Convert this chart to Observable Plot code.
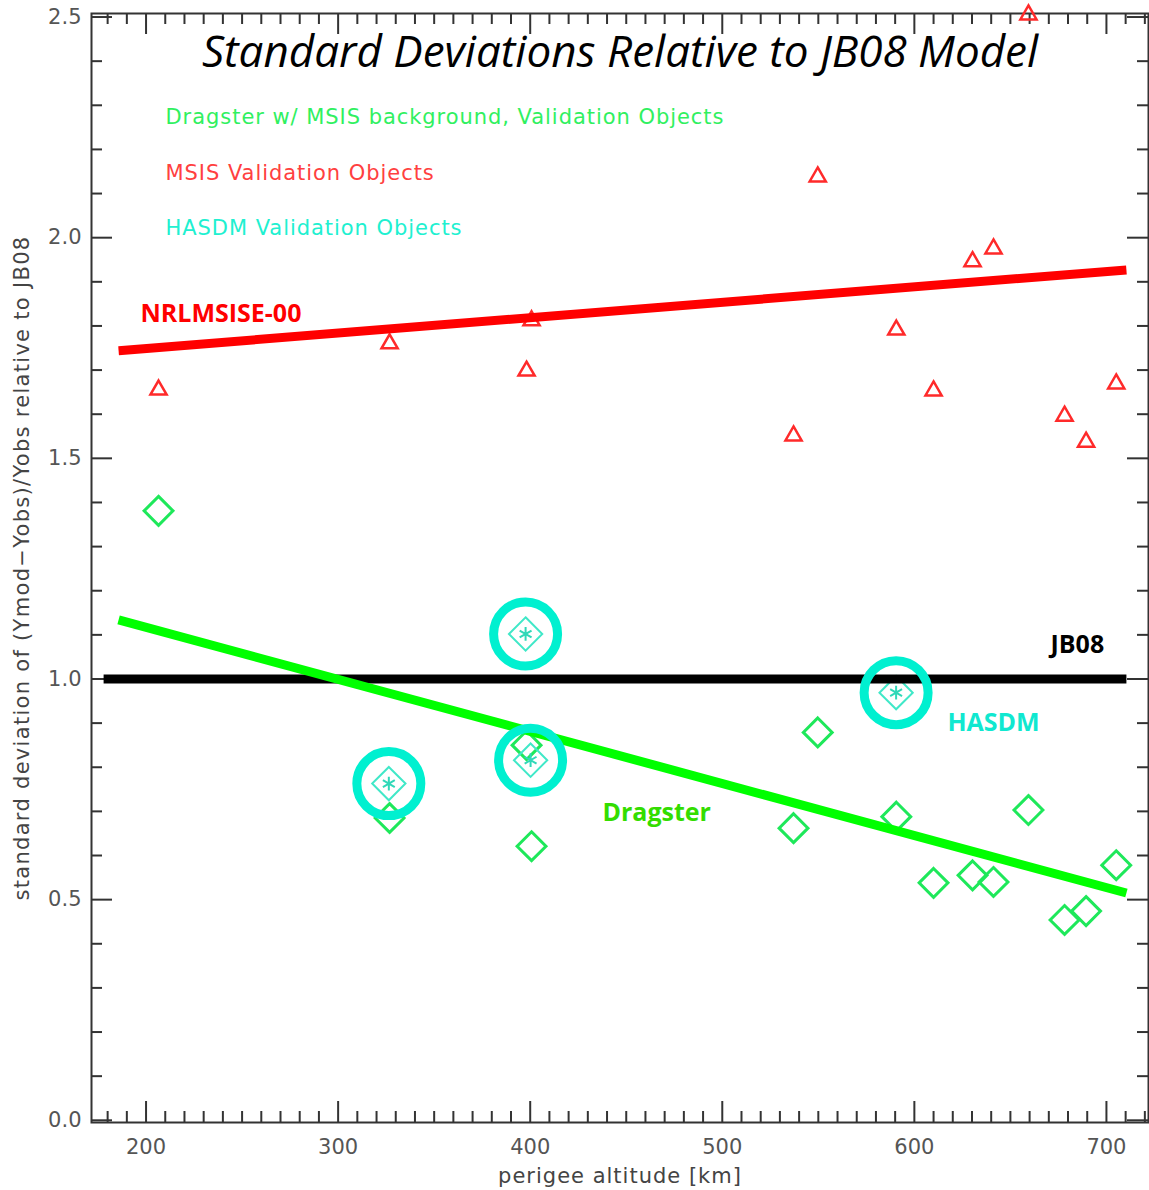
<!DOCTYPE html>
<html><head><meta charset="utf-8">
<script src="https://cdn.jsdelivr.net/npm/d3@7"></script>
<script src="https://cdn.jsdelivr.net/npm/@observablehq/plot@0.6"></script>
<style>
body{margin:0;background:#fff;}
#chart svg{display:block;}
.legendtxt text{letter-spacing:0.95px;}
.ytitle text{letter-spacing:1.3px;}
.xtitle text{letter-spacing:1.0px;}
</style></head><body><div id="chart"></div>
<script>
// ---- data ----
const objectAltitude = [206.5, 326.8, 398.1, 400.7, 537.1, 549.7, 590.6, 610.0, 630.3, 641.2, 659.4, 678.2, 689.4, 705.1];
const msisStd        = [1.655, 1.760, 1.698, 1.812, 1.551, 2.138, 1.791, 1.653, 1.946, 1.975, 2.505, 1.596, 1.537, 1.669];
const dragsterStd    = [1.381, 0.685, 0.850, 0.621, 0.662, 0.879, 0.688, 0.538, 0.555, 0.540, 0.703, 0.454, 0.474, 0.578];
const hasdmAltitude  = [326.4, 397.6, 400.2, 590.5];
const hasdmStd       = [0.763, 1.102, 0.816, 0.969];
const fitAltitude    = [185.7, 710.4];
const msisFit        = [1.744, 1.927];
const dragsterFit    = [1.134, 0.515];
const jb08Altitude   = [177.9, 710.4];
const jb08Level      = [1.0, 1.0];
const xMajorTicks = [200, 300, 400, 500, 600, 700];
const xMinorTicks = [180,190,210,220,230,240,250,260,270,280,290,310,320,330,340,350,360,370,380,390,
  410,420,430,440,450,460,470,480,490,510,520,530,540,550,560,570,580,590,610,620,630,640,650,660,670,680,690,710,720];
const yMajorTicks = [0, 0.5, 1.0, 1.5, 2.0, 2.5];
const yMinorTicks = [0.1,0.2,0.3,0.4,0.6,0.7,0.8,0.9,1.1,1.2,1.3,1.4,1.6,1.7,1.8,1.9,2.1,2.2,2.3,2.4];
const titleText = "Standard Deviations Relative to JB08 Model";
const legendTexts = ["Dragster w/ MSIS background, Validation Objects", "MSIS Validation Objects", "HASDM Validation Objects"];
const curveLabels = ["NRLMSISE-00", "JB08", "HASDM", "Dragster"];
const curveLabelAlt = [197.1, 670.9, 617.2, 437.6];
const curveLabelStd = [1.828, 1.076, 0.901, 0.697];

// ---- tables ----
const objects = objectAltitude.map((alt, i) => ({alt, msis: msisStd[i], dragster: dragsterStd[i]}));
const hasdm = hasdmAltitude.map((alt, i) => ({alt, std: hasdmStd[i]}));
const fits = fitAltitude.map((alt, i) => ({alt, msis: msisFit[i], dragster: dragsterFit[i]}));
const jb08 = jb08Altitude.map((alt, i) => ({alt, level: jb08Level[i]}));
const labels = curveLabels.map((t, i) => ({t, alt: curveLabelAlt[i], std: curveLabelStd[i]}));

const GREEN = "#1ee85a", RED = "#ff2a2a", CYAN = "#00f0d0";
const labelColors = {"NRLMSISE-00": "#ff0000", "JB08": "#000000", "HASDM": "#10e8d0", "Dragster": "#33dd00"};
const legendColors = ["#30f060", "#ff4040", "#20f0d0"];

const W = 1149, H = 1190, mL = 91, mR = 1, mT = 13, mB = 68;
const fW = W - mL - mR, fH = H - mT - mB;
const hershey = "'DejaVu Sans', sans-serif";
const axisCol = "#333";

const legendMarks = legendTexts.map((t, i) =>
  Plot.text([t], {frameAnchor: "top-left", dx: 74, dy: 104 + i * 55.5, text: d => d, lineAnchor: "middle",
    textAnchor: "start", fontSize: 21, fill: legendColors[i], fontFamily: hershey, className: "legendtxt"}));

const chart = Plot.plot({
  width: W, height: H,
  marginLeft: mL, marginRight: mR, marginTop: mT, marginBottom: mB,
  x: {domain: [171.6, 721.9], axis: null},
  y: {domain: [-0.005, 2.508], axis: null},
  style: {background: "#fff"},
  marks: [
    // ticks (inward, mirrored)
    Plot.tickX(xMajorTicks, {x: d => d, insetTop: fH - 21, stroke: axisCol, strokeWidth: 2}),
    Plot.tickX(xMajorTicks, {x: d => d, insetBottom: fH - 21, stroke: axisCol, strokeWidth: 2}),
    Plot.tickX(xMinorTicks, {x: d => d, insetTop: fH - 11, stroke: axisCol, strokeWidth: 2}),
    Plot.tickX(xMinorTicks, {x: d => d, insetBottom: fH - 11, stroke: axisCol, strokeWidth: 2}),
    Plot.tickY(yMajorTicks, {y: d => d, insetRight: fW - 21, stroke: axisCol, strokeWidth: 2}),
    Plot.tickY(yMajorTicks, {y: d => d, insetLeft: fW - 21, stroke: axisCol, strokeWidth: 2}),
    Plot.tickY(yMinorTicks, {y: d => d, insetRight: fW - 11, stroke: axisCol, strokeWidth: 2}),
    Plot.tickY(yMinorTicks, {y: d => d, insetLeft: fW - 11, stroke: axisCol, strokeWidth: 2}),
    Plot.frame({stroke: axisCol, strokeWidth: 2}),
    // tick labels
    Plot.text(xMajorTicks, {x: d => d, frameAnchor: "bottom", dy: 25, lineAnchor: "middle", text: d => String(d),
      fontSize: 21, fill: "#555", fontFamily: hershey}),
    Plot.text(yMajorTicks, {y: d => d, frameAnchor: "left", dx: -10, textAnchor: "end", text: d => d.toFixed(1),
      fontSize: 21, fill: "#555", fontFamily: hershey}),
    // axis titles
    Plot.text(["perigee altitude [km]"], {frameAnchor: "bottom", dy: 54, lineAnchor: "middle", textAnchor: "middle",
      text: d => d, fontSize: 21, fill: "#444", fontFamily: hershey, className: "xtitle"}),
    Plot.text(["standard deviation of (Ymod\u2212Yobs)/Yobs relative to JB08"], {frameAnchor: "left", dx: -69, rotate: -90,
      textAnchor: "middle", lineAnchor: "middle",
      text: d => d, fontSize: 21, fill: "#444", fontFamily: hershey, className: "ytitle"}),
    // title & legend
    Plot.text([titleText], {frameAnchor: "top", dy: 39, lineAnchor: "middle", text: d => d, fontSize: 44,
      fontStyle: "italic", fill: "#000", fontFamily: "'Open Sans', sans-serif"}),
    ...legendMarks,
    // symbols
    Plot.dot(objects, {x: "alt", y: "msis", symbol: "triangle", r: 6, stroke: RED, strokeWidth: 2.5, fill: "none"}),
    Plot.dot(objects, {x: "alt", y: "dragster", symbol: "diamond2", r: 13, stroke: GREEN, strokeWidth: 3, fill: "none"}),
    Plot.dot(hasdm, {x: "alt", y: "std", symbol: "diamond2", r: 15, stroke: "#40e8c8", strokeWidth: 2, fill: "none"}),
    Plot.dot(hasdm, {x: "alt", y: "std", symbol: "asterisk", r: 6.5, stroke: "#30d8b8", strokeWidth: 2}),
    // lines
    Plot.line(jb08, {x: "alt", y: "level", stroke: "#000", strokeWidth: 9, strokeLinecap: "butt"}),
    Plot.line(fits, {x: "alt", y: "msis", stroke: "#ff0000", strokeWidth: 9, strokeLinecap: "butt"}),
    Plot.line(fits, {x: "alt", y: "dragster", stroke: "#00ff00", strokeWidth: 9, strokeLinecap: "butt"}),
    // circles round HASDM objects
    Plot.dot(hasdm, {x: "alt", y: "std", r: 32, stroke: CYAN, strokeWidth: 9, fill: "none"}),
    // curve labels
    Plot.text(labels, {x: "alt", y: "std", text: "t", textAnchor: "start", fontSize: 25, fontWeight: "bold",
      fill: d => labelColors[d.t], fontFamily: "'Open Sans', sans-serif"})
  ]
});
document.getElementById("chart").appendChild(chart);
</script></body></html>
